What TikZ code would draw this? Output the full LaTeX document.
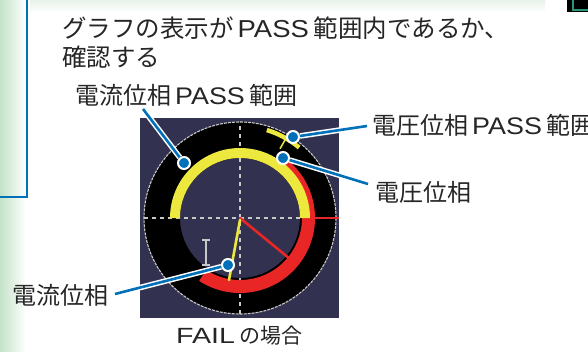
\documentclass[tikz,border=0pt]{standalone}
\usepackage{fontspec}
\usepackage{graphicx}
\setmainfont{Noto Sans CJK JP}
\newfontfamily\latf{Liberation Sans}
\newcommand\passw{\hspace{4pt}\scalebox{1.12}[1]{\latf PASS}\hspace{5pt}}
\definecolor{navy}{RGB}{50,50,80}
\definecolor{scyellow}{RGB}{236,232,62}
\definecolor{scred}{RGB}{232,38,38}
\definecolor{cblue}{RGB}{0,112,185}
\definecolor{gridgray}{RGB}{200,200,200}
\definecolor{lgreen}{RGB}{196,226,200}
\definecolor{paleg}{RGB}{232,242,234}
\definecolor{teal}{RGB}{40,150,120}
\tikzset{
  lbl/.style={inner sep=0pt, font=\fontsize{24pt}{28pt}\selectfont, text=black!85},
  toplbl/.style={inner sep=0pt, font=\fontsize{24.5pt}{29pt}\selectfont, text=black!85},
  callout/.style={draw=cblue, line width=2.6pt, preaction={draw=white, line width=5.6pt}},
  dot/.style={circle, fill=cblue, draw=white, line width=2pt, minimum size=12pt, inner sep=0pt},
  grid/.style={draw=gridgray, line width=1.2pt, dash pattern=on 4pt off 4pt},
  vec/.style={line width=2.6pt, line cap=round}
}
\begin{document}
\begin{tikzpicture}[x=1pt,y=1pt]
\useasboundingbox (0,0) rectangle (588,351);
\fill[white] (0,0) rectangle (588,351);
% background decorations
\shade[left color=lgreen, right color=white] (0,0) rectangle (26,351);
\shade[top color=paleg, bottom color=white] (30,338) rectangle (545,351);
\draw[cblue, line width=2.5pt] (27,351) -- (27,154) -- (0,154);
\fill[black] (567,339) rectangle (588,351);
\draw[teal, line width=2pt] (573,351) -- (573,340.5) -- (588,340.5);
% scope screen
\coordinate (C) at (240,133);
\fill[navy] (140,33) rectangle (339,233);
\fill[black, even odd rule] (C) circle[radius=96pt] (C) circle[radius=60pt];
\draw[gridgray, line width=1.1pt, dash pattern=on 3pt off 1pt] (C) circle[radius=96pt];
\draw[grid] (240,37) -- (240,229);
\draw[grid] (144,133) -- (312,133);
% voltage phase (red)
\fill[scred] (C) ++(50:75pt) arc[start angle=50, end angle=-123, radius=75pt]
  -- ++(57:13pt) arc[start angle=-123, end angle=50, radius=62pt] -- cycle;
% current PASS range (yellow)
\fill[scyellow] (C) ++(180:70pt) arc[start angle=180, end angle=0, radius=70pt]
  -- ++(-10pt,0) arc[start angle=0, end angle=180, radius=60pt] -- cycle;
% voltage PASS range
\draw[scyellow, line width=4.5pt] (C) ++(50:92pt) arc[start angle=50, end angle=73, radius=92pt];
\draw[scyellow, line width=1.5pt] (C) ++(60:92pt) -- ++(240:12pt);
% reference line and vectors
\draw[scred, line width=2.6pt] (312,133) -- (339,133);
\draw[scred, vec] (C) -- (290,92);
\draw[scyellow, vec] (240,131) -- (229,71);
% I marker
\draw[gridgray, line width=1.3pt] (202,111) -- (210,111) (206,111) -- (206,86) (202,86) -- (210,86);
% labels
\node[toplbl, anchor=west] (top1) at (62,323) {グラフの表示が\passw 範囲内であるか、};
\node[toplbl, anchor=west] (top2) at (62,294) {確認する};
\node[lbl, anchor=west] (t1) at (75,256) {電流位相\passw 範囲};
\node[lbl, anchor=west] (t2) at (372,226) {電圧位相\passw 範囲};
\node[lbl, anchor=west] (t3) at (375,159) {電圧位相};
\node[lbl, anchor=west] (t4) at (12,56) {電流位相};
\node[inner sep=0pt, text=black!85, anchor=west] (t5) at (176,15)
  {\fontsize{22pt}{26pt}\selectfont\scalebox{1.3}[1]{\latf FAIL}\hspace{4pt}\fontsize{21pt}{26pt}\selectfont の場合};
% callouts
\node[dot] (d1) at (184,188) {};
\node[dot] (d2) at (293,214) {};
\node[dot] (d3) at (283,193) {};
\node[dot] (d4) at (228,86) {};
\coordinate (e1) at (143,242);
\coordinate (e2) at (367,225);
\coordinate (e3) at (368,167);
\coordinate (e4) at (115,57);
\draw[callout] (e1) -- (d1);
\draw[callout] (e2) -- (d2);
\draw[callout] (e3) -- (d3);
\draw[callout] (e4) -- (d4);
\end{tikzpicture}
\end{document}
